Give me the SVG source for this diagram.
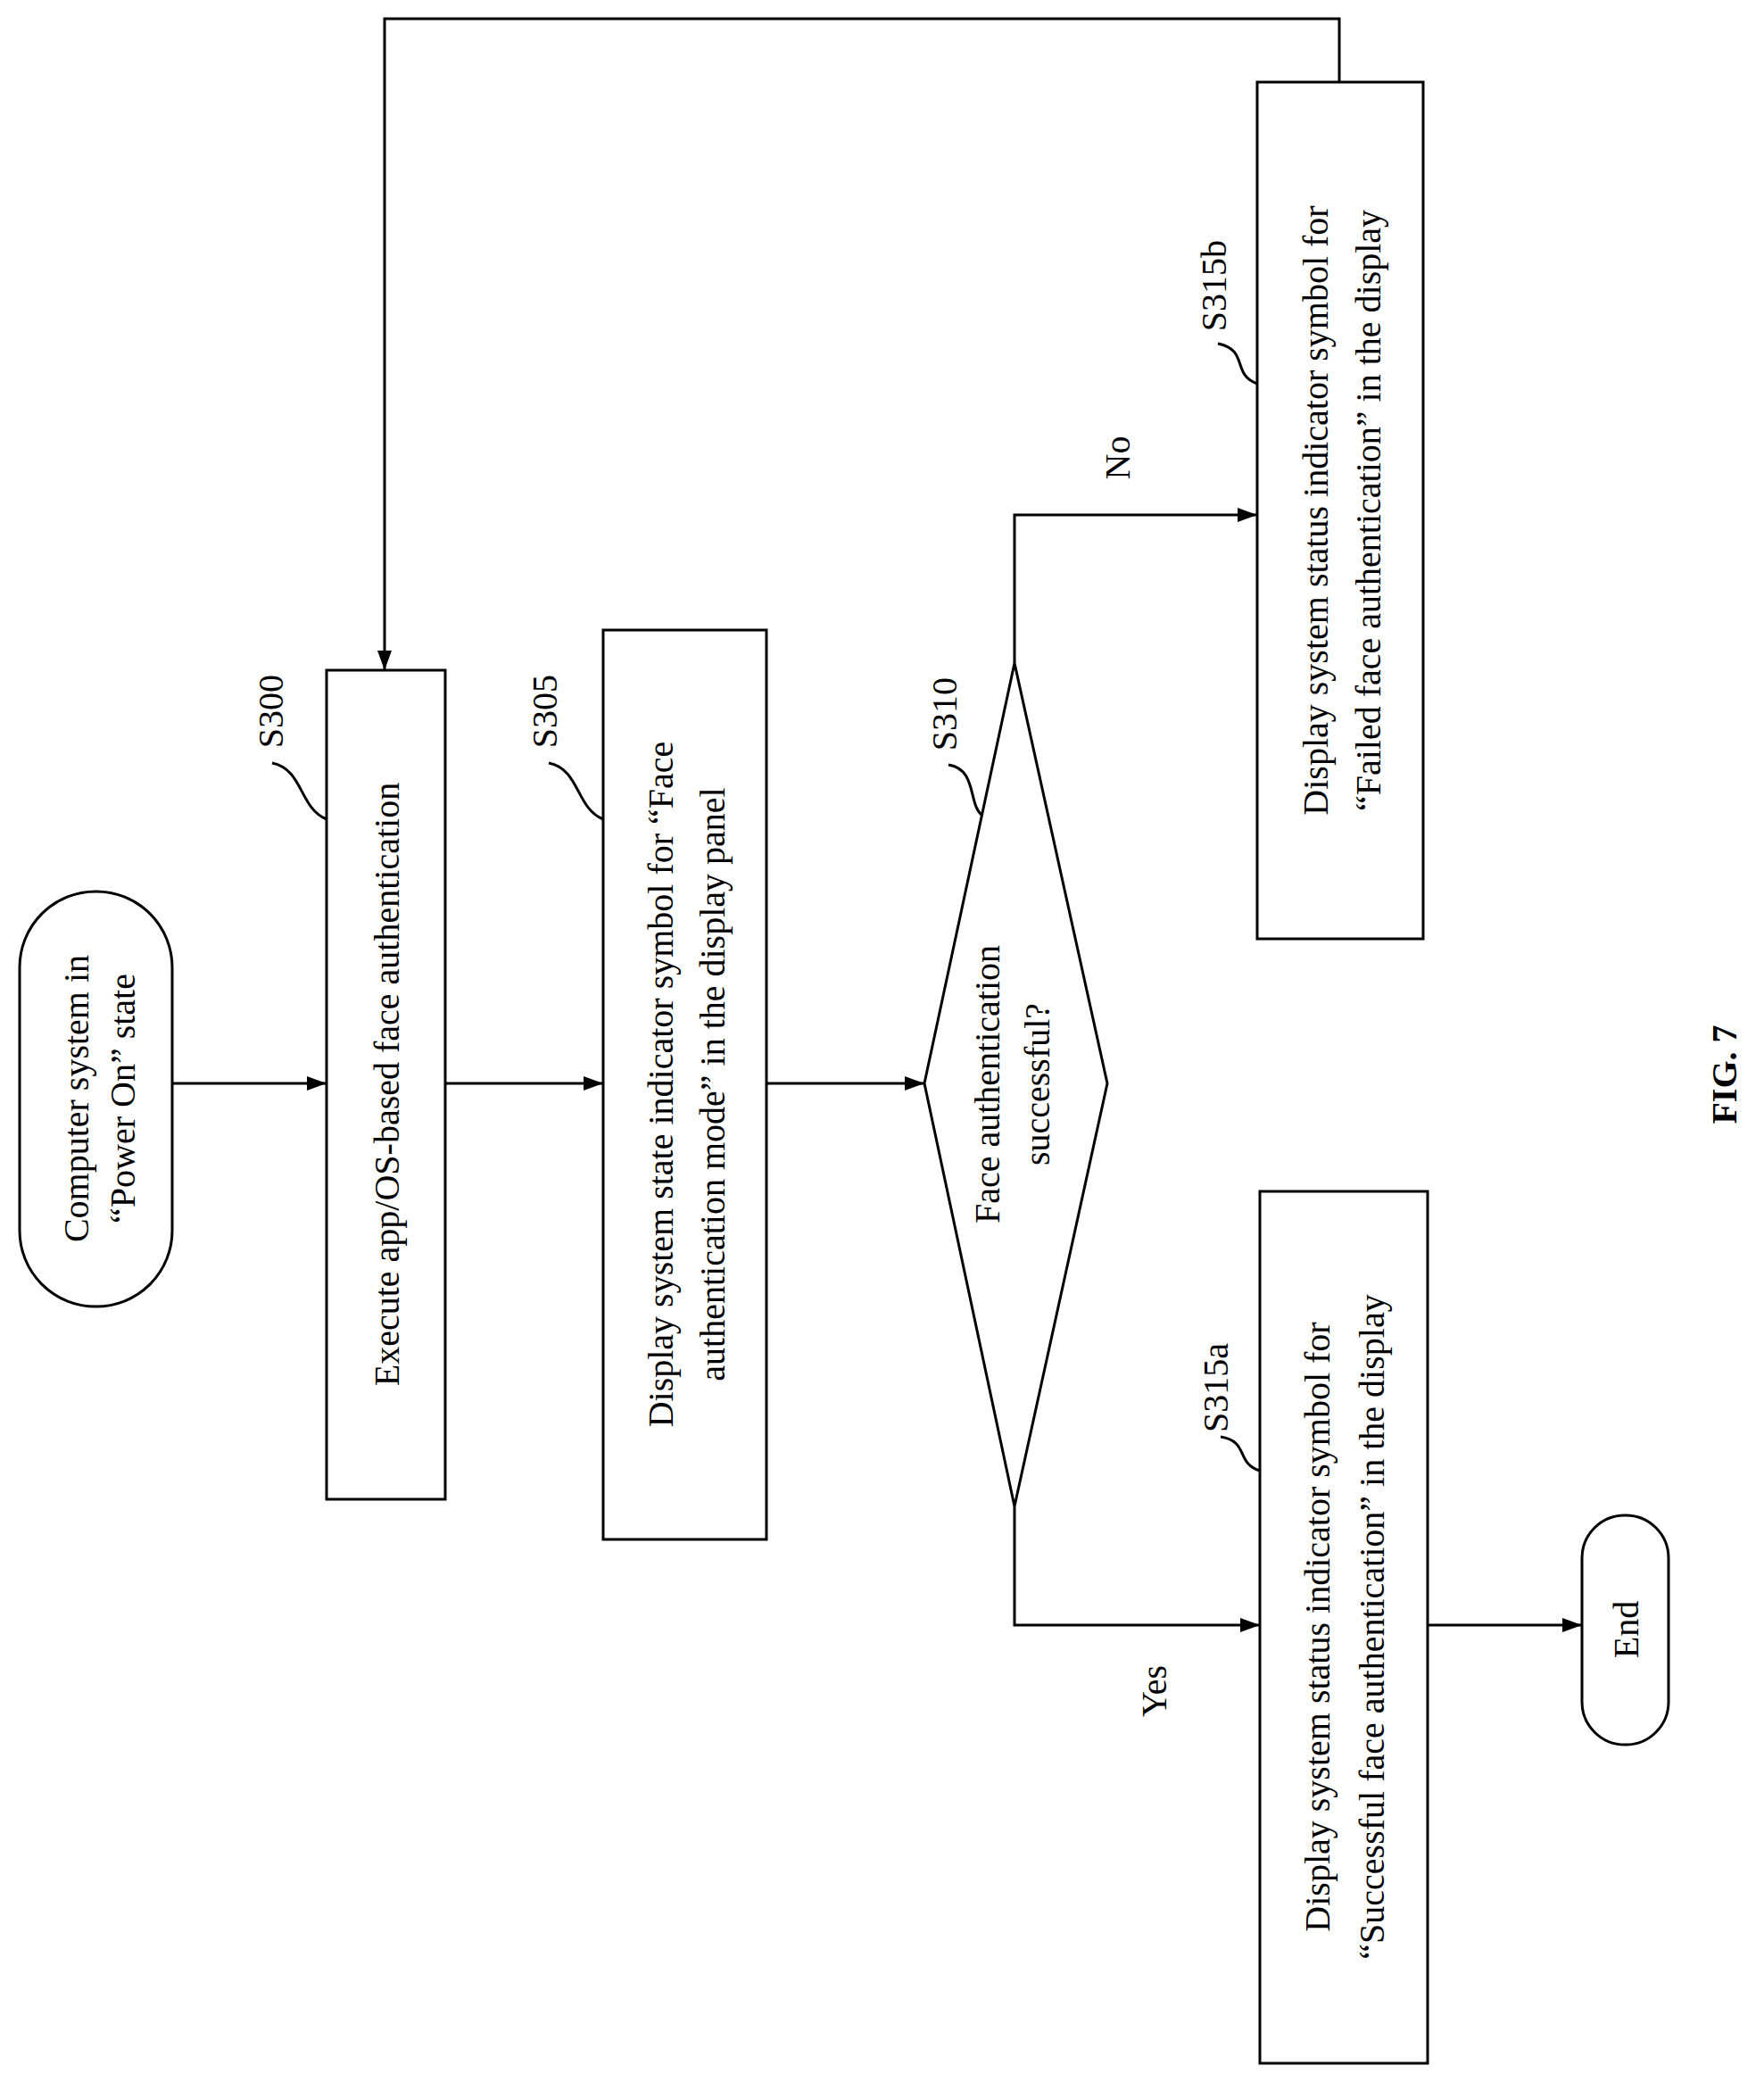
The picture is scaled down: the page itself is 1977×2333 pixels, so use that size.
<svg xmlns="http://www.w3.org/2000/svg" width="1977" height="2333" viewBox="0 0 1977 2333">
<style>
.b{fill:none;stroke:#000;stroke-width:3}
.c{fill:none;stroke:#000;stroke-width:3}
text{font-family:"Liberation Serif",serif;font-size:40px;fill:#000;text-anchor:middle;dominant-baseline:central}
</style>
<defs>
<marker id="m" viewBox="0 0 10 10" refX="10" refY="5" markerWidth="22" markerHeight="16" markerUnits="userSpaceOnUse" orient="auto" preserveAspectRatio="none"><path d="M0,0L10,5L0,10z" fill="#000"/></marker></defs>
<rect width="1977" height="2333" fill="#fff"/>
<g id="start"><rect class="b" x="22" y="999" width="171" height="465" rx="85"/>
<text transform="translate(85,1231) rotate(-90)">Computer system in</text>
<text transform="translate(137,1231) rotate(-90)">“Power On” state</text></g>
<g id="s300"><rect class="b" x="366" y="751" width="133" height="929"/>
<text transform="translate(433,1215) rotate(-90)">Execute app/OS-based face authentication</text>
<text transform="translate(303,797) rotate(-90)">S300</text>
<path class="c" d="M305,855C340,862 335,905 366,918"/></g>
<g id="s305"><rect class="b" x="676" y="706" width="183" height="1019"/>
<text transform="translate(740,1215) rotate(-90)">Display system state indicator symbol for “Face</text>
<text transform="translate(798,1215) rotate(-90)">authentication mode” in the display panel</text>
<text transform="translate(610,797) rotate(-90)">S305</text>
<path class="c" d="M615,855C650,862 645,905 676,918"/></g>
<g id="s310"><path class="b" d="M1137,743L1241,1214L1137,1688L1036,1214Z"/>
<text transform="translate(1106,1215) rotate(-90)">Face authentication</text>
<text transform="translate(1162,1215) rotate(-90)">successful?</text>
<text transform="translate(1058,800) rotate(-90)">S310</text>
<path class="c" d="M1063,857C1095,862 1085,900 1100,913"/></g>
<g id="s315b"><rect class="b" x="1409" y="92" width="186" height="960"/>
<text transform="translate(1474,572) rotate(-90)">Display system status indicator symbol for</text>
<text transform="translate(1533,572) rotate(-90)">“Failed face authentication” in the display</text>
<text transform="translate(1360,320) rotate(-90)">S315b</text>
<path class="c" d="M1365,385C1400,392 1380,420 1409,430"/></g>
<g id="s315a"><rect class="b" x="1412" y="1335" width="188" height="977"/>
<text transform="translate(1476,1823) rotate(-90)">Display system status indicator symbol  for</text>
<text transform="translate(1537,1823) rotate(-90)">“Successful face authentication” in the display</text>
<text transform="translate(1362,1555) rotate(-90)">S315a</text>
<path class="c" d="M1368,1610C1400,1615 1385,1640 1412,1648"/></g>
<g id="end"><rect class="b" x="1773" y="1698" width="97" height="257" rx="48"/>
<text transform="translate(1822,1826) rotate(-90)">End</text></g>
<g id="connectors">
<path class="c" d="M193,1214H366" marker-end="url(#m)"/>
<path class="c" d="M499,1214H676" marker-end="url(#m)"/>
<path class="c" d="M859,1214H1036" marker-end="url(#m)"/>
<path class="c" d="M1137,743V577H1409" marker-end="url(#m)"/>
<path class="c" d="M1137,1688V1821H1412" marker-end="url(#m)"/>
<path class="c" d="M1600,1821H1773" marker-end="url(#m)"/>
<path class="c" d="M1501,92V21H431V751" marker-end="url(#m)"/>
<text transform="translate(1252,513) rotate(-90)">No</text>
<text transform="translate(1293,1895) rotate(-90)">Yes</text>
</g>
<text transform="translate(1932,1204) rotate(-90)" style="font-weight:bold">FIG. 7</text>
</svg>
